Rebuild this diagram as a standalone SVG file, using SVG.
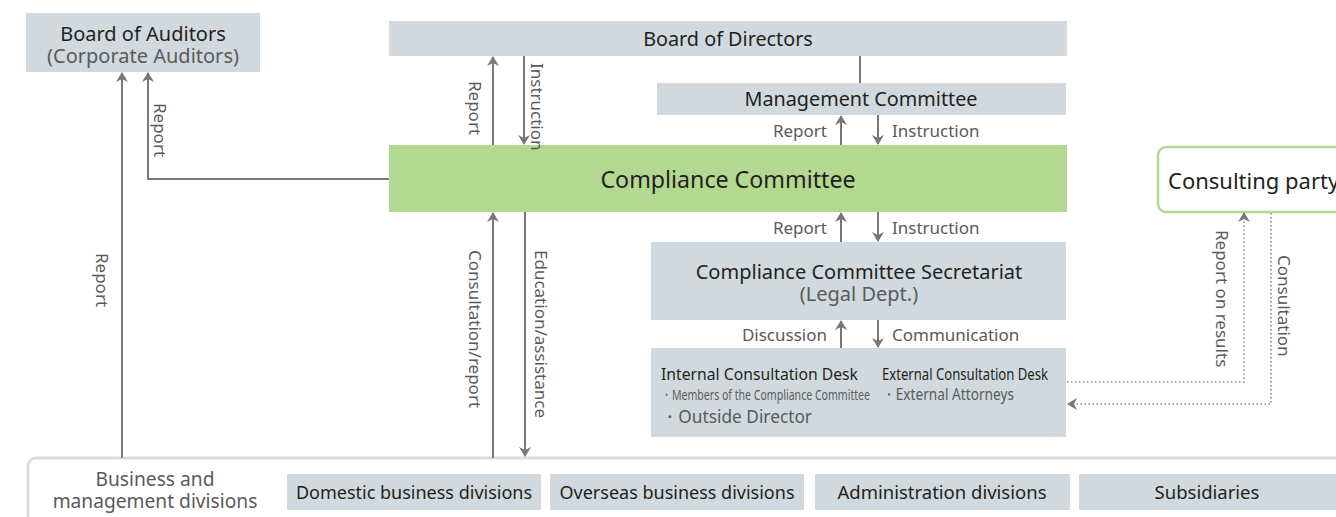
<svg xmlns="http://www.w3.org/2000/svg" width="1336" height="517" viewBox="0 0 1336 517">
<defs>
<style>
text{font-family:"Noto Sans","Open Sans","DejaVu Sans",sans-serif;fill:#231f20}
.box{fill:#d1d9df}
.t18{font-size:20px}
.lbl{font-size:17px;fill:#5a5a5a}
.gray{fill:#5a5a5a}
.ln{stroke:#77787b;stroke-width:2;fill:none}
.dot{stroke:#8a8b8d;stroke-width:1.6;fill:none;stroke-dasharray:1.5 2.5}
</style>
<marker id="ah" viewBox="0 0 10 12" refX="9" refY="6" markerWidth="10" markerHeight="12" markerUnits="userSpaceOnUse" orient="auto">
<path d="M0,0 L10,6 L0,12 L3,6 Z" fill="#77787b"/>
</marker>
</defs>

<g id="board-of-auditors">
<rect class="box" x="26" y="13" width="234" height="59"/>
<text class="t18" x="143" y="41" text-anchor="middle">Board of Auditors</text>
<text class="t18 gray" x="143" y="63" text-anchor="middle">(Corporate Auditors)</text>
</g>

<g id="board-of-directors">
<rect class="box" x="389" y="21" width="678" height="35"/>
<text x="728" y="46" text-anchor="middle" font-size="19.8">Board of Directors</text>
</g>

<g id="management-committee">
<rect class="box" x="657" y="83" width="409" height="32"/>
<text x="861" y="106" text-anchor="middle" font-size="19.8">Management Committee</text>
</g>

<g id="compliance-committee">
<rect x="389" y="145" width="678" height="67" fill="#b3d88f"/>
<text x="728" y="188" text-anchor="middle" font-size="23.2">Compliance Committee</text>
</g>

<g id="secretariat">
<rect class="box" x="651" y="242" width="415" height="78"/>
<text class="t18" x="859" y="279" text-anchor="middle">Compliance Committee Secretariat</text>
<text class="t18 gray" x="859" y="301" text-anchor="middle">(Legal Dept.)</text>
</g>

<g id="consultation-desk">
<rect class="box" x="651" y="348" width="415" height="89"/>
<text x="661" y="380" font-size="17" textLength="197" lengthAdjust="spacingAndGlyphs">Internal Consultation Desk</text>
<text x="661" y="400" font-size="14.5" class="gray" textLength="209" lengthAdjust="spacingAndGlyphs">・Members of the Compliance Committee</text>
<text x="661" y="423" font-size="18" class="gray" textLength="151" lengthAdjust="spacingAndGlyphs">・Outside Director</text>
<text x="882" y="380" font-size="17" textLength="166" lengthAdjust="spacingAndGlyphs">External Consultation Desk</text>
<text x="882" y="400" font-size="16" class="gray" textLength="132" lengthAdjust="spacingAndGlyphs">・External Attorneys</text>
</g>

<g id="consulting-party">
<rect x="1158" y="147" width="200" height="65" rx="8" fill="#fff" stroke="#b3d88f" stroke-width="2.5"/>
<text x="1168" y="189" font-size="22">Consulting party</text>
</g>

<g id="business-divisions">
<rect x="28" y="458" width="1330" height="80" rx="8" fill="#fff" stroke="#d9e0d8" stroke-width="3"/>
<text x="155" y="486" text-anchor="middle" font-size="19.2" class="gray">Business and</text>
<text x="155" y="508" text-anchor="middle" font-size="19.2" class="gray">management divisions</text>
</g>
<g id="domestic">
<rect class="box" x="287" y="474" width="254" height="36"/>
<text x="414" y="499" text-anchor="middle" font-size="18">Domestic business divisions</text>
</g>
<g id="overseas">
<rect class="box" x="550" y="474" width="254" height="36"/>
<text x="677" y="499" text-anchor="middle" font-size="18">Overseas business divisions</text>
</g>
<g id="administration">
<rect class="box" x="815" y="474" width="255" height="36"/>
<text x="942" y="499" text-anchor="middle" font-size="18.5">Administration divisions</text>
</g>
<g id="subsidiaries">
<rect class="box" x="1079" y="474" width="270" height="36"/>
<text x="1207" y="499" text-anchor="middle" font-size="18.5">Subsidiaries</text>
</g>

<g id="connectors">
<line class="ln" x1="860" y1="56" x2="860" y2="83"/>
<line class="ln" x1="493" y1="145" x2="493" y2="57" marker-end="url(#ah)"/>
<line class="ln" x1="524" y1="56" x2="524" y2="144" marker-end="url(#ah)"/>
<line class="ln" x1="841" y1="145" x2="841" y2="116" marker-end="url(#ah)"/>
<line class="ln" x1="878" y1="115" x2="878" y2="144" marker-end="url(#ah)"/>
<line class="ln" x1="841" y1="242" x2="841" y2="213" marker-end="url(#ah)"/>
<line class="ln" x1="878" y1="212" x2="878" y2="241" marker-end="url(#ah)"/>
<line class="ln" x1="841" y1="348" x2="841" y2="321" marker-end="url(#ah)"/>
<line class="ln" x1="878" y1="320" x2="878" y2="347" marker-end="url(#ah)"/>
<line class="ln" x1="122" y1="458" x2="122" y2="73" marker-end="url(#ah)"/>
<polyline class="ln" points="389,179 148,179 148,73" marker-end="url(#ah)"/>
<line class="ln" x1="493" y1="458" x2="493" y2="213" marker-end="url(#ah)"/>
<line class="ln" x1="525" y1="212" x2="525" y2="456" marker-end="url(#ah)"/>
<polyline class="dot" points="1067,382 1244,382 1244,213" marker-end="url(#ah)"/>
<polyline class="dot" points="1271,213 1271,404 1068,404" marker-end="url(#ah)"/>

<text class="lbl" x="827" y="137" text-anchor="end">Report</text>
<text class="lbl" x="892" y="137">Instruction</text>
<text class="lbl" x="827" y="234" text-anchor="end">Report</text>
<text class="lbl" x="892" y="234">Instruction</text>
<text class="lbl" x="827" y="341" text-anchor="end">Discussion</text>
<text class="lbl" x="892" y="341">Communication</text>
<text class="lbl" transform="translate(469,81) rotate(90)">Report</text>
<text class="lbl" transform="translate(531,63) rotate(90)">Instruction</text>
<text class="lbl" transform="translate(154,103) rotate(90)">Report</text>
<text class="lbl" transform="translate(96,253) rotate(90)">Report</text>
<text class="lbl" transform="translate(469,250) rotate(90)">Consultation/report</text>
<text class="lbl" transform="translate(535,250) rotate(90)">Education/assistance</text>
<text class="lbl" transform="translate(1216,230) rotate(90)">Report on results</text>
<text class="lbl" transform="translate(1278,255) rotate(90)">Consultation</text>
</g>
</svg>
